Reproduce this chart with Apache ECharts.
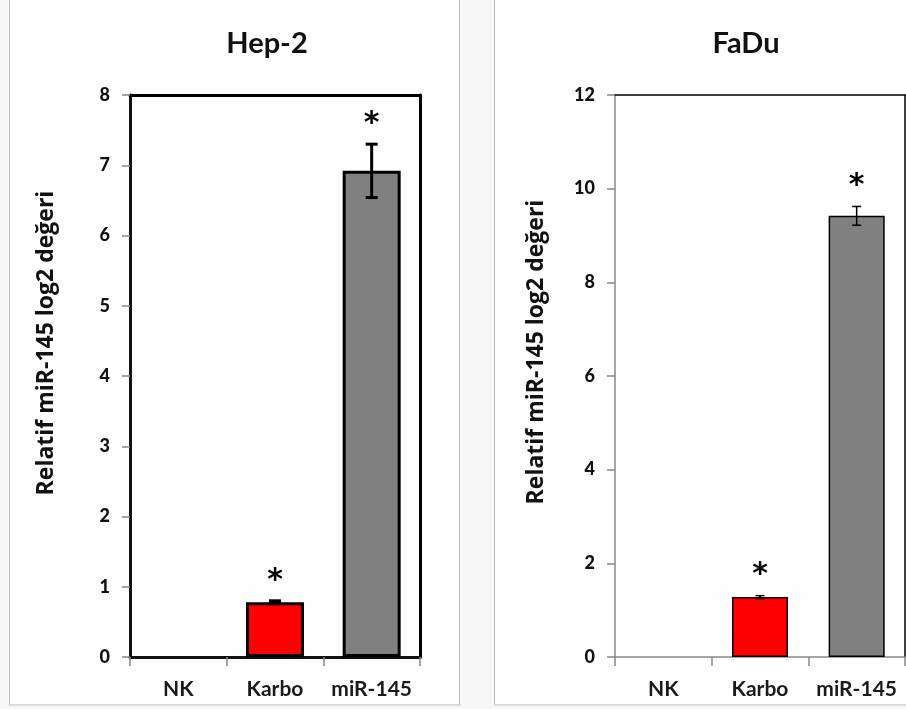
<!DOCTYPE html>
<html>
<head>
<meta charset="utf-8">
<script src="https://cdn.jsdelivr.net/npm/echarts@6/dist/echarts.min.js"></script>
<style>
  html, body { margin: 0; padding: 0; background: #f7f7f7; }
  #chart { width: 906px; height: 709px; }
</style>
</head>
<body>
<div id="chart"></div>
<script>
const categories = ['NK', 'Karbo', 'miR-145'];
const barColors = ['#ffffff', '#ff0000', '#808080'];

const hepValues = [0, 0.78, 6.92];
const hepErrors = [0, 0.02, 0.38];
const hepStars = ['', '*', '*'];
const hepTicks = { min: 0, max: 8, interval: 1 };

const faduValues = [0, 1.28, 9.42];
const faduErrors = [0, 0.03, 0.2];
const faduStars = ['', '*', '*'];
const faduTicks = { min: 0, max: 12, interval: 2 };

const yTitle = 'Relatif miR-145 log2 değeri';
const font = 'Lato';

function barData(values, borderWidth) {
  return values.map((v, i) => ({
    value: v,
    itemStyle: {
      color: barColors[i],
      borderColor: '#000',
      borderWidth: v === 0 ? 0 : borderWidth,
    },
  }));
}

function errorSeries(values, errors, stars, axis, lineWidth, capHalf) {
  return {
    type: 'custom',
    xAxisIndex: axis.x,
    yAxisIndex: axis.y,
    z: 5,
    data: values.map((v, i) => [i, v, errors[i]]),
    renderItem: function(params, api) {
      const i = params.dataIndex;
      const v = api.value(1);
      const e = api.value(2);
      const top = api.coord([i, v + e]);
      const bottom = api.coord([i, v - e]);
      const children = [];
      if (e > 0) {
        const style = { stroke: '#000', lineWidth: lineWidth };
        children.push(
          { type: 'line', shape: { x1: top[0], y1: top[1], x2: bottom[0], y2: bottom[1] }, style: style },
          { type: 'line', shape: { x1: top[0] - capHalf, y1: top[1], x2: top[0] + capHalf, y2: top[1] }, style: style },
          { type: 'line', shape: { x1: bottom[0] - capHalf, y1: bottom[1], x2: bottom[0] + capHalf, y2: bottom[1] }, style: style }
        );
      }
      if (stars[i]) {
        children.push({
          type: 'text',
          style: {
            text: stars[i],
            x: top[0],
            y: top[1] - 20,
            align: 'center',
            verticalAlign: 'middle',
            fontSize: 30,
            fontWeight: 'bold',
            fontFamily: 'DejaVu Sans',
            fill: '#000',
          },
        });
      }
      return { type: 'group', children: children };
    },
  };
}

function bottomAxis(gridIndex, lineColor, lineWidth) {
  return {
    type: 'category',
    gridIndex: gridIndex,
    data: categories,
    axisLine: { onZero: false, lineStyle: { color: lineColor, width: lineWidth } },
    axisTick: { show: true, length: 9, lineStyle: { color: '#888', width: 1.5 } },
    axisLabel: {
      interval: 0, color: '#1a1a1a', fontSize: 21, fontWeight: 'bold', fontFamily: font, margin: 22,
    },
  };
}

function topAxis(gridIndex, lineWidth) {
  return {
    type: 'category',
    gridIndex: gridIndex,
    position: 'top',
    data: categories,
    axisLine: { onZero: false, lineStyle: { color: '#000', width: lineWidth } },
    axisTick: { show: false },
    axisLabel: { show: false },
  };
}

function leftAxis(gridIndex, ticks, lineColor, lineWidth) {
  return {
    type: 'value',
    gridIndex: gridIndex,
    min: ticks.min,
    max: ticks.max,
    interval: ticks.interval,
    axisLine: { show: true, onZero: false, lineStyle: { color: lineColor, width: lineWidth } },
    axisTick: { show: true, length: 8, lineStyle: { color: '#888', width: 1.5 } },
    axisLabel: { color: '#111', fontSize: 18, fontWeight: 900, fontFamily: font, margin: 20 },
    splitLine: { show: false },
  };
}

function rightAxis(gridIndex, ticks, lineWidth) {
  return {
    type: 'value',
    gridIndex: gridIndex,
    position: 'right',
    min: ticks.min,
    max: ticks.max,
    interval: ticks.interval,
    axisLine: { show: true, onZero: false, lineStyle: { color: '#000', width: lineWidth } },
    axisTick: { show: false },
    axisLabel: { show: false },
    splitLine: { show: false },
  };
}

const chart = echarts.init(document.getElementById('chart'));

chart.setOption({
  backgroundColor: '#f7f7f7',
  animation: false,
  graphic: [
    {
      type: 'rect', z: -10, silent: true,
      shape: { x: 9.5, y: -2, width: 450, height: 707 },
      style: { fill: '#fefefe', stroke: '#bdbdbd', lineWidth: 1 },
    },
    {
      type: 'rect', z: -10, silent: true,
      shape: { x: 494.5, y: -2, width: 420, height: 707 },
      style: { fill: '#fefefe', stroke: '#bdbdbd', lineWidth: 1 },
    },
    {
      type: 'text', rotation: Math.PI / 2, x: 46, y: 343,
      style: {
        text: yTitle, align: 'center', verticalAlign: 'middle',
        fontSize: 23, fontWeight: 'bold', fontFamily: 'Open Sans', fill: '#111',
      },
    },
    {
      type: 'text', rotation: Math.PI / 2, x: 536, y: 352,
      style: {
        text: yTitle, align: 'center', verticalAlign: 'middle',
        fontSize: 23, fontWeight: 'bold', fontFamily: 'Open Sans', fill: '#111',
      },
    },
  ],
  title: [
    {
      text: 'Hep-2', left: 262, top: 24, textAlign: 'center',
      textStyle: { fontSize: 29, fontWeight: 'bold', fontFamily: font, color: '#111' },
    },
    {
      text: 'FaDu', left: 741, top: 24, textAlign: 'center',
      textStyle: { fontSize: 29, fontWeight: 'bold', fontFamily: font, color: '#111' },
    },
  ],
  grid: [
    { left: 130, width: 290, top: 95, height: 562 },
    { left: 615, width: 290, top: 95, height: 562 },
  ],
  xAxis: [
    bottomAxis(0, '#111', 3),
    topAxis(0, 3),
    bottomAxis(1, '#888', 1.5),
    topAxis(1, 1.5),
  ],
  yAxis: [
    leftAxis(0, hepTicks, '#111', 3),
    rightAxis(0, hepTicks, 3),
    leftAxis(1, faduTicks, '#888', 1.5),
    rightAxis(1, faduTicks, 1.5),
  ],
  series: [
    {
      type: 'bar',
      xAxisIndex: 0,
      yAxisIndex: 0,
      barWidth: '60%',
      data: barData(hepValues, 3),
    },
    errorSeries(hepValues, hepErrors, hepStars, { x: 0, y: 0 }, 3, 6),
    {
      type: 'bar',
      xAxisIndex: 2,
      yAxisIndex: 2,
      barWidth: '58%',
      data: barData(faduValues, 1.5),
    },
    errorSeries(faduValues, faduErrors, faduStars, { x: 2, y: 2 }, 1.5, 4.5),
  ],
});

window.addEventListener('resize', () => chart.resize());
</script>
</body>
</html>
